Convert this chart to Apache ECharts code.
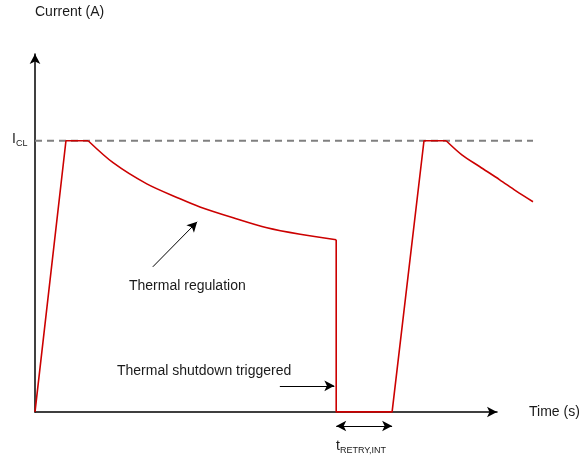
<!DOCTYPE html>
<html>
<head>
<meta charset="utf-8">
<script src="https://cdn.jsdelivr.net/npm/echarts@6/dist/echarts.min.js"></script>
<style>html,body{margin:0;padding:0;background:#fff}#c{width:582px;height:458px}</style>
</head>
<body>
<div id="c"></div>
<script>
// Time in arbitrary units, current relative to I_CL (= 1)
const rampT = [0, 0.67, 1.15];
const rampI = [0, 1, 1];
const decay1T = [1.15, 1.69, 2.42, 3.14, 3.57, 4.29, 5.02, 5.74, 6.52];
const decay1I = [1, 0.919, 0.841, 0.786, 0.756, 0.716, 0.679, 0.655, 0.635];
const retryT = [6.52, 6.52, 7.73, 8.42, 8.90];
const retryI = [0.635, 0, 0, 1, 1];
const decay2T = [8.90, 9.24, 9.63, 10.06, 10.41, 10.78];
const decay2I = [1, 0.948, 0.904, 0.856, 0.815, 0.775];
const iclT = [0, 10.78];
const iclLevel = 1;
const axisTMax = 10;      // end of drawn time axis (arrow)
const plotTMax = 10.78;   // extent of the curves
const axisIMax = 1.32;
const plotIMin = -0.1;    // room below the axis for the t_RETRY arrow

// annotation arrows [fromT, fromI, toT, toI]
const regArrow = [2.55, 0.535, 3.51, 0.701];
const shutArrow = [5.30, 0.096, 6.48, 0.096];
const retryArrow = [6.52, -0.052, 7.73, -0.052];

const zip = (a, b) => a.map((v, i) => [v, b[i]]);
const RED = '#cc0000';
const FONT = '"Liberation Sans", Arial, sans-serif';
const TXT = '#1a1a1a';

const chart = echarts.init(document.getElementById('c'));
const hidden = { show: false };
const axisCommon = {
  type: 'value',
  axisLabel: hidden, axisTick: hidden, splitLine: hidden,
  axisLine: { show: true, symbol: ['none', 'arrow'], symbolSize: [8, 10], lineStyle: { color: '#000', width: 1.5 } }
};
const arrowLine = (a, sym) => ({
  silent: true,
  symbol: sym,
  symbolSize: [8, 10],
  label: { show: false },
  lineStyle: { color: '#000', width: 1, type: 'solid' },
  emphasis: { disabled: true },
  data: [[{ coord: [a[0], a[1]] }, { coord: [a[2], a[3]] }]]
});
const onData = { xAxisIndex: 1, yAxisIndex: 1 };
const redLine = (data, smooth, extra) => Object.assign({
  type: 'line', data, smooth, showSymbol: false, clip: false, silent: true,
  lineStyle: { color: RED, width: 1.6 }, z: 5
}, onData, extra || {});

chart.setOption({
  animation: false,
  grid: [
    { left: 35, right: 85, top: 54, bottom: 46 },
    { left: 35, right: 49, top: 54, bottom: 19 }
  ],
  xAxis: [
    Object.assign({}, axisCommon, { gridIndex: 0, min: 0, max: axisTMax }),
    { type: 'value', gridIndex: 1, min: 0, max: plotTMax, show: false }
  ],
  yAxis: [
    Object.assign({}, axisCommon, { gridIndex: 0, min: 0, max: axisIMax }),
    { type: 'value', gridIndex: 1, min: plotIMin, max: axisIMax, show: false }
  ],
  series: [
    Object.assign({ type: 'line', data: iclT.map(t => [t, iclLevel]), showSymbol: false, clip: false, silent: true,
      lineStyle: { color: '#808080', width: 2, type: [7, 5] }, z: 3 }, onData),
    redLine(zip(rampT, rampI), false),
    redLine(zip(decay1T, decay1I), 0.3, { markLine: arrowLine(regArrow, ['none', 'arrow']) }),
    redLine(zip(retryT, retryI), false, { markLine: arrowLine(shutArrow, ['none', 'arrow']) }),
    redLine(zip(decay2T, decay2I), 0.3, { markLine: arrowLine(retryArrow, ['arrow', 'arrow']) })
  ],
  graphic: [
    { type: 'text', left: 35, top: 5, style: { text: 'Current (A)', font: '14px ' + FONT, fill: TXT } },
    { type: 'text', left: 529, top: 405, style: { text: 'Time (s)', font: '14px ' + FONT, fill: TXT } },
    { type: 'text', left: 129, top: 279, style: { text: 'Thermal regulation', font: '14px ' + FONT, fill: TXT } },
    { type: 'text', left: 117, top: 364, style: { text: 'Thermal shutdown triggered', font: '14px ' + FONT, fill: TXT } },
    { type: 'text', left: 12, top: 132, style: { text: '{m|I}{s|CL}', fill: TXT,
        rich: { m: { font: '14px ' + FONT, verticalAlign: 'bottom' }, s: { font: '9px ' + FONT, verticalAlign: 'bottom', padding: [0, 0, -2, 0] } } } },
    { type: 'text', left: 336, top: 439, style: { text: '{m|t}{s|RETRY,INT}', fill: TXT,
        rich: { m: { font: '14px ' + FONT, verticalAlign: 'bottom' }, s: { font: '9px ' + FONT, verticalAlign: 'bottom', padding: [0, 0, -2, 0] } } } }
  ]
});
</script>
</body>
</html>
